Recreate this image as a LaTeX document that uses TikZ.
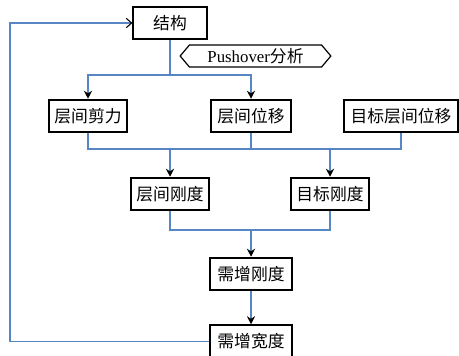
\documentclass[tikz,border=0pt]{standalone}
\usepackage{fontspec}
\setmainfont{Liberation Serif}
\newfontfamily\cjk{Noto Sans CJK SC}
\usetikzlibrary{arrows.meta,shapes.symbols}

\definecolor{lineblue}{RGB}{86,134,196}

\begin{document}
\begin{tikzpicture}[x=0.75pt,y=-0.75pt]

\tikzstyle{every node}=[font=\fontsize{12.6}{14}\selectfont\cjk];
\tikzstyle{box}=[draw, line width=1.4pt, minimum height=24.5pt, inner xsep=3pt];
\tikzstyle{line}=[draw=lineblue, line width=0.8pt];
\tikzstyle{arr}=[line, -{Stealth[black,length=6pt,width=6pt,inset=2pt]}];
\tikzstyle{back}=[line, -{Straight Barb[black,length=4pt,width=7pt]}];

\useasboundingbox (0,0) rectangle (459,355);

\node[box, minimum width=55pt] (jg) at (170,23) {结构};
\node[draw, line width=0.9pt, signal, signal to=east and west, signal pointer angle=100,
      minimum width=113pt, minimum height=16.5pt, inner sep=1pt]
      (ph) at (255.5,56) {\setmainfont{Liberation Serif}\rmfamily Pushover{\cjk 分析}};

\node[box, minimum width=58.5pt] (jl) at (88,116) {层间剪力};
\node[box, minimum width=60pt] (wy) at (251,116) {层间位移};
\node[box, minimum width=85.5pt] (mb) at (401,116) {目标层间位移};

\node[box, minimum width=59pt] (gd) at (170,194) {层间刚度};
\node[box, minimum width=58.5pt] (mg) at (330,194) {目标刚度};

\node[box, minimum width=62pt] (xg) at (251,274) {需增刚度};
\node[box, minimum width=62pt] (xk) at (251,341.5) {需增宽度};

\coordinate (c1) at (170,75);
\coordinate (c2) at (251,149);
\coordinate (c3) at (251,230);
\coordinate (fb) at (10,341.5);

\draw[line] (jg.south) -- (c1);
\draw[arr] (c1) -| (jl.north);
\draw[arr] (c1) -| (wy.north);

\draw[line] (jl.south) |- (c2) -| (mb.south);
\draw[line] (wy.south) -- (c2);
\draw[arr] (c2 -| gd) -- (gd.north);
\draw[arr] (c2 -| mg) -- (mg.north);

\draw[line] (gd.south) |- (c3) -| (mg.south);
\draw[arr] (c3) -- (xg.north);
\draw[arr] (xg.south) -- (xk.north);

\draw[back] (xk.west) -- (fb) |- (jg.west);
\end{tikzpicture}
\end{document}
